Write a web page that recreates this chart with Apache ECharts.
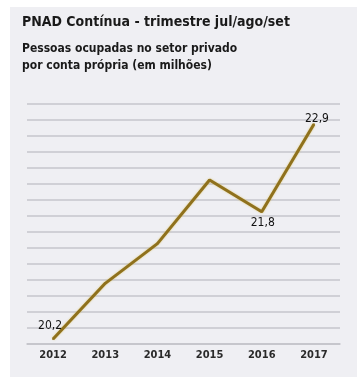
<!DOCTYPE html>
<html>
<head>
<meta charset="utf-8">
<script src="https://cdn.jsdelivr.net/npm/echarts@6/dist/echarts.min.js"></script>
<style>
html,body{margin:0;padding:0;background:#fff;}
#c{width:361px;height:381px;}
</style>
</head>
<body>
<div id="c"></div>
<script>
const categories = ['2012', '2013', '2014', '2015', '2016', '2017'];
const values = [20.2, 20.9, 21.4, 22.2, 21.8, 22.9];
const labelledIdx = [0, 4, 5];

const FONT = '"DejaVu Sans Condensed", "Liberation Sans Narrow", sans-serif';
const fmt = v => v.toFixed(1).replace('.', ',');

const labelCfg = {
  0: {position: 'top', distance: 8, offset: [-3, 2]},
  4: {position: 'bottom', distance: 5, offset: [1, -1]},
  5: {position: 'top', distance: 2, offset: [3, 4]}
};

const seriesData = values.map((v, i) => {
  if (labelledIdx.includes(i)) {
    return {value: v, label: Object.assign({show: true}, labelCfg[i])};
  }
  return v;
});

const chart = echarts.init(document.getElementById('c'), null, {renderer: 'canvas'});
chart.setOption({
  animation: false,
  backgroundColor: '#ffffff',
  graphic: [{
    type: 'rect', z: -10, silent: true,
    shape: {x: 10, y: 7, width: 347, height: 370},
    style: {fill: '#efeff3'}
  }],
  title: [{
    text: 'PNAD Contínua - trimestre jul/ago/set',
    left: 22, top: 13,
    padding: 0,
    textStyle: {fontFamily: FONT, fontSize: 14, fontWeight: 'bold', color: '#1a1a1a', lineHeight: 19}
  }, {
    text: 'Pessoas ocupadas no setor privado\npor conta própria (em milhões)',
    left: 22, top: 40,
    padding: 0,
    textStyle: {fontFamily: FONT, fontSize: 12, fontWeight: 'bold', color: '#1a1a1a', lineHeight: 17.5}
  }],
  grid: {left: 27, right: 21, top: 104, bottom: 37, containLabel: false},
  xAxis: {
    type: 'category',
    data: categories,
    boundaryGap: true,
    axisLine: {show: true, lineStyle: {color: '#c2c2c9', width: 1.5}},
    axisTick: {show: false},
    axisLabel: {margin: 6, fontFamily: FONT, fontSize: 11, fontWeight: 'bold', color: '#2a2a2a'}
  },
  yAxis: [{
    type: 'value',
    min: 20.137, max: 23.156,
    axisLine: {show: false}, axisTick: {show: false}, axisLabel: {show: false},
    splitLine: {show: false}
  }, {
    type: 'value',
    min: 0, max: 15, interval: 1,
    axisLine: {show: false}, axisTick: {show: false}, axisLabel: {show: false},
    splitLine: {show: true, lineStyle: {color: '#c6c6cd', width: 1.5}}
  }],
  series: [{
    type: 'line',
    yAxisIndex: 0,
    data: seriesData,
    showSymbol: true,
    symbol: 'circle',
    symbolSize: 2,
    itemStyle: {color: '#8f711d'},
    smooth: false,
    lineStyle: {color: '#8f711d', width: 3, shadowColor: 'rgba(215,185,70,0.7)', shadowBlur: 2},
    label: {show: false, formatter: p => fmt(p.value), fontFamily: FONT, fontSize: 12, color: '#111111'},
    z: 5
  }]
});
</script>
</body>
</html>
